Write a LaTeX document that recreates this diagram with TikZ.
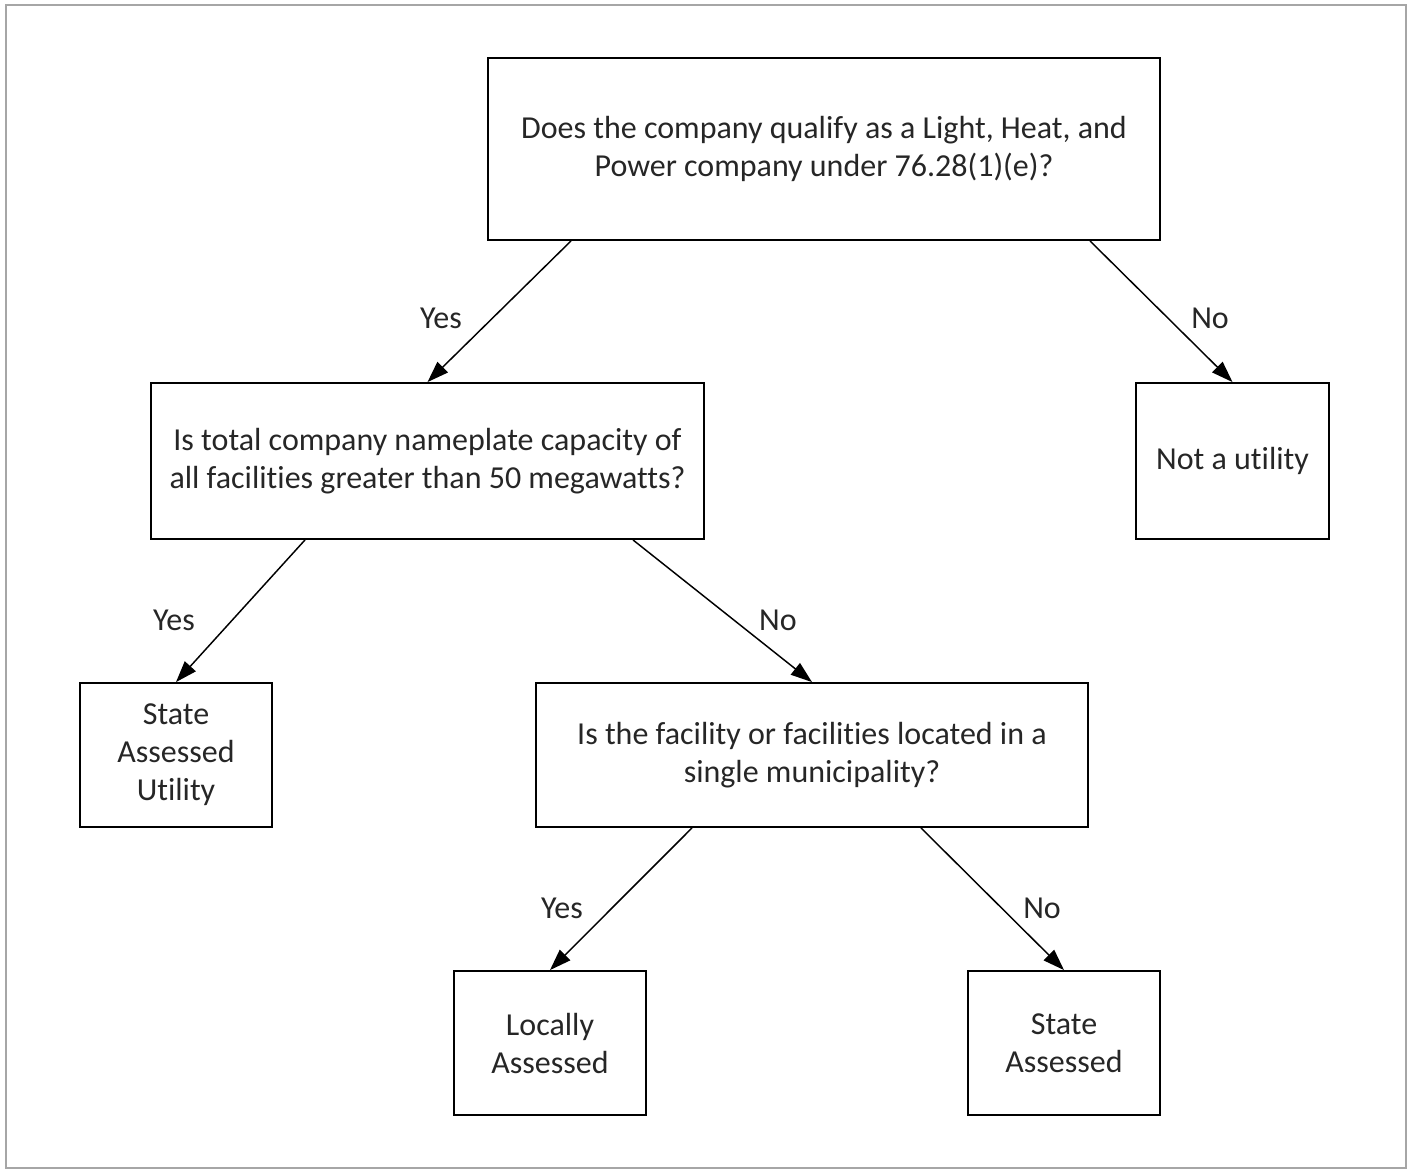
\documentclass[tikz,border=0pt]{standalone}
\usepackage{fontspec}
\setmainfont{Carlito}[Ligatures={NoCommon,NoRare,NoContextual}, Contextuals=NoAlternate]
\usetikzlibrary{arrows.meta}

\begin{document}
\begin{tikzpicture}[x=0.75pt, y=-0.75pt,
        box/.style={draw, line width=1.4pt, align=center, inner sep=0pt,
            font=\fontsize{24}{28.5}\selectfont, text=black!85},
        arr/.style={line width=1.1pt, -{Triangle[length=16pt, width=11pt]}},
        lbl/.style={font=\fontsize{24}{28.5}\selectfont, text=black!85}]
        \useasboundingbox (0, 0) rectangle (1409, 1171);
        \draw[black!35, line width=1.5pt] (6, 5) rectangle (1406, 1168);

        \node[box, minimum width=504pt, minimum height=136.5pt] (top) at (824, 149)
            {Does the company qualify as a Light, Heat, and\\Power company under 76.28(1)(e)?};
        \node[box, minimum width=414.75pt, minimum height=117pt] (cap) at (427.5, 461)
            {Is total company nameplate capacity of\\all facilities greater than 50 megawatts?};
        \node[box, minimum width=144.75pt, minimum height=117pt] (notutil) at (1232.5, 461)
            {Not a utility};
        \node[box, minimum width=144pt, minimum height=108pt] (stateutil) at (176, 755)
            {State\\Assessed\\Utility};
        \node[box, minimum width=414pt, minimum height=108pt] (muni) at (812, 755)
            {Is the facility or facilities located in a\\single municipality?};
        \node[box, minimum width=144pt, minimum height=108pt] (local) at (550, 1043)
            {Locally\\Assessed};
        \node[box, minimum width=144pt, minimum height=108pt] (state) at (1064, 1043)
            {State\\Assessed};

        \draw[arr] (top.south) ++(-253, 0) -- (cap.north);
        \draw[arr] (top.south) ++(266, 0) -- (notutil.north);
        \draw[arr] (cap.south) ++(-122.5, 0) -- (stateutil.north);
        \draw[arr] (cap.south) ++(205.5, 0) -- (muni.north);
        \draw[arr] (muni.south) ++(-120, 0) -- (local.north);
        \draw[arr] (muni.south) ++(109, 0) -- (state.north);

        \node[lbl] (yes1) at (441, 318) {Yes};
        \node[lbl] (no1) at (1210, 318) {No};
        \node[lbl] (yes2) at (174, 620) {Yes};
        \node[lbl] (no2) at (778, 620) {No};
        \node[lbl] (yes3) at (562, 908) {Yes};
        \node[lbl] (no3) at (1042, 908) {No};
    \end{tikzpicture}
\end{document}
